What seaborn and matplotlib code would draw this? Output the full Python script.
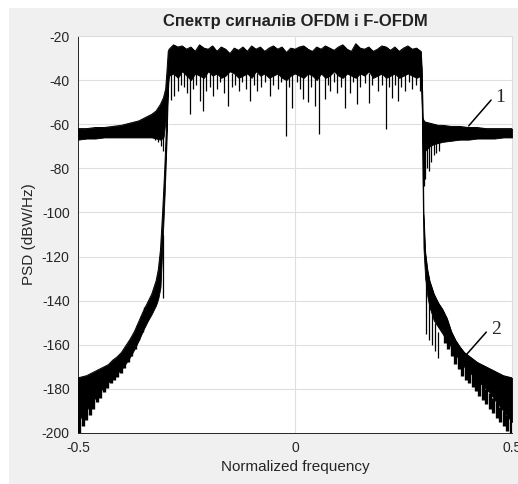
import numpy as np
import matplotlib
matplotlib.use('Agg')
import matplotlib.pyplot as plt
import seaborn as sns
from matplotlib.patches import Rectangle

# ---- дані ----
# OFDM, смуга пропускання: обвідні
pb_freq = [-0.29, -0.28, -0.27, -0.26, -0.25, -0.24, -0.23, -0.22, -0.21, -0.20,
           -0.19, -0.18, -0.17, -0.16, -0.15, -0.14, -0.13, -0.12, -0.11, -0.10,
           -0.09, -0.08, -0.07, -0.06, -0.05, -0.04, -0.03, -0.02, -0.01, 0.00,
           0.01, 0.02, 0.03, 0.04, 0.05, 0.06, 0.07, 0.08, 0.09, 0.10,
           0.11, 0.12, 0.13, 0.14, 0.15, 0.16, 0.17, 0.18, 0.19, 0.20,
           0.21, 0.22, 0.23, 0.24, 0.25, 0.26, 0.27, 0.28, 0.29]
pb_upper = [-26, -24, -25, -24.5, -26, -25, -27, -24, -25.5, -26,
            -24.5, -27, -25, -26, -28, -25.5, -26.5, -25, -27, -24.5,
            -26, -25, -27, -25.5, -24.5, -26, -25, -27.5, -25.5, -26,
            -25, -24.5, -26, -27, -25, -26, -24.5, -25.5, -26.5, -25,
            -24, -26, -27, -23.5, -25.5, -26, -25, -27, -26, -24.5,
            -25, -26.5, -25, -27, -25.5, -24.5, -26, -25.5, -27]
pb_lower = [-38, -37, -39, -36, -38, -40, -37, -38, -39, -36,
            -38, -37, -39, -38, -36, -37, -39, -38, -37, -39,
            -36, -38, -37, -39, -38, -37, -39, -40, -38, -37,
            -38, -39, -37, -38, -40, -37, -39, -38, -36, -38,
            -39, -37, -38, -39, -37, -38, -36, -39, -38, -37,
            -39, -38, -37, -39, -38, -37, -38, -39, -38]

# OFDM, провали в смузі (частота, рівень)
dip_freq = [-0.285, -0.278, -0.27, -0.262, -0.255, -0.248, -0.242, -0.235, -0.228, -0.22,
            -0.212, -0.205, -0.196, -0.188, -0.18, -0.172, -0.163, -0.154, -0.146, -0.138,
            -0.13, -0.122, -0.113, -0.104, -0.095, -0.087, -0.078, -0.07, -0.058, -0.05,
            -0.04, -0.032, -0.021, -0.014, -0.008, 0.004, 0.012, 0.019, 0.031, 0.038,
            0.046, 0.056, 0.068, 0.075, 0.081, 0.089, 0.096, 0.105, 0.115, 0.127,
            0.134, 0.142, 0.15, 0.161, 0.17, 0.178, 0.192, 0.2, 0.209, 0.216,
            0.223, 0.23, 0.237, 0.245, 0.253, 0.262, 0.27, 0.278, 0.288]
dip_level = [-49, -47, -45, -42, -43, -46, -55.5, -44, -42, -49.5,
             -54, -45, -43, -47, -44, -41, -46, -51.7, -43, -42,
             -45, -41, -44, -49.5, -42, -45, -43, -41, -47, -42,
             -44, -41, -65.3, -43, -52.5, -41, -44, -48.7, -50, -43,
             -51.7, -64.6, -48.7, -42, -45, -41, -45.7, -43, -52.5, -46,
             -41, -51, -43, -41.5, -50.2, -42, -45, -42, -62.3, -43,
             -48, -42, -49.5, -43, -45, -41, -44, -42, -45]

# OFDM, позасмугове випромінювання зліва / справа
oob_l_freq = [-0.50, -0.48, -0.46, -0.44, -0.42, -0.40, -0.38, -0.36, -0.35, -0.34,
              -0.33, -0.32, -0.31, -0.303, -0.298, -0.295, -0.292]
oob_l_upper = [-62, -62, -61.5, -61.5, -61, -60.5, -59.5, -58.5, -57.5, -56.5,
               -55.5, -54, -51, -48, -44, -36, -27]
oob_l_lower = [-67, -66.5, -66.5, -66, -66, -66, -66, -66, -66, -66,
               -66, -66.5, -67, -66, -58, -48, -40]
oob_r_freq = [0.290, 0.292, 0.294, 0.297, 0.300, 0.310, 0.320, 0.330, 0.340, 0.360,
              0.380, 0.400, 0.420, 0.440, 0.460, 0.480, 0.500]
oob_r_upper = [-27, -35, -57, -58.5, -59, -59.5, -60, -60.5, -60.5, -61,
               -61, -61.5, -61.5, -62, -62, -62, -62]
oob_r_lower = [-38, -48, -68, -74, -72, -70, -69, -68.5, -68, -67.5,
               -67, -67, -66.5, -66.5, -66.5, -66, -66]
oob_spike_freq = [-0.322, -0.315, -0.309, -0.303, 0.297, 0.300, 0.304, 0.309, 0.314, 0.320, 0.326, 0.332]
oob_spike_level = [-67, -68, -70, -72, -88, -85, -80, -81, -77, -74, -73, -72]

# F-OFDM, спад зліва / справа (щільна частина)
sk_l_freq = [-0.500, -0.490, -0.480, -0.470, -0.460, -0.450, -0.440, -0.430, -0.420, -0.410,
             -0.400, -0.390, -0.380, -0.370, -0.360, -0.350, -0.340, -0.330, -0.320, -0.315,
             -0.310, -0.305, -0.300, -0.296, -0.293, -0.290]
sk_l_upper = [-175, -174.5, -174, -173, -172, -171, -170, -169, -167, -165.5,
              -163.5, -160.5, -157.5, -154, -149.5, -145, -141, -137, -131, -126,
              -117, -100, -80, -60, -40, -30]
sk_l_lower = [-195, -192, -189.5, -187, -184, -181.5, -179, -177, -175, -173,
              -171, -168.5, -165.5, -162, -158, -153.5, -149.5, -146, -142, -139,
              -134, -113, -90, -68, -46, -35]
sk_r_freq = [0.290, 0.293, 0.296, 0.300, 0.305, 0.310, 0.320, 0.330, 0.340, 0.350,
             0.360, 0.370, 0.380, 0.390, 0.400, 0.410, 0.420, 0.430, 0.440, 0.450,
             0.460, 0.470, 0.480, 0.490, 0.500]
sk_r_upper = [-30, -45, -100, -118, -126, -131, -137, -141, -144, -148,
              -154, -158, -161, -163.5, -165, -166.5, -168, -169, -170, -171,
              -172, -173, -174, -174.5, -175]
sk_r_lower = [-36, -55, -116, -130, -138, -143, -149, -152, -155, -158,
              -161, -164.5, -167, -170, -172, -174, -176, -178, -180, -182,
              -185, -187.5, -190, -192.5, -195]
# зубці нижньої обвідної F-OFDM (кінці)
tooth_freq = [-0.497, -0.489, -0.481, -0.473, -0.465, -0.457, -0.449, -0.441, -0.433, -0.425,
              -0.417, -0.409, -0.401, -0.393, -0.385, -0.377, -0.369, -0.361, -0.353, -0.345,
              0.345, 0.353, 0.361, 0.369, 0.377, 0.385, 0.393, 0.401, 0.409, 0.417,
              0.425, 0.433, 0.441, 0.449, 0.457, 0.465, 0.473, 0.481, 0.489, 0.497]
tooth_level = [-200, -197, -194, -192, -189, -186, -184, -181.5, -179.5, -177.5,
               -176, -174.5, -173, -170.5, -168, -165, -162, -158, -154, -150,
               -159, -162, -165, -168.5, -171, -174, -176, -177.5, -179, -181,
               -183, -185, -187, -189, -191, -193, -195, -197, -199, -200]
sk_spike_freq = [-0.303, 0.302, 0.308, 0.315, 0.322, 0.330]
sk_spike_top = [-110, -132, -140, -146, -150, -154]
sk_spike_level = [-139, -155, -158, -160, -163, -166]

yticks = [-200, -180, -160, -140, -120, -100, -80, -60, -40, -20]
xticks = [-0.5, 0, 0.5]

# ---- оформлення ----
sns.set_style('white')
plt.rcParams['font.family'] = ['Liberation Sans', 'DejaVu Sans']
plt.rcParams['axes.unicode_minus'] = False
txt = '#262626'

fig = plt.figure(figsize=(5.18, 4.84), dpi=100)
fig.patch.set_facecolor('white')
fig.patches.append(Rectangle((9 / 518, 0), 1, 476 / 484, transform=fig.transFigure,
                             facecolor='#f0f0f0', edgecolor='none', zorder=-5))
ax = fig.add_axes([78 / 518, 51 / 484, 434 / 518, 397 / 484])
ax.set_facecolor('white')

# OFDM (1)
freq1 = oob_l_freq + pb_freq + oob_r_freq
up1 = oob_l_upper + pb_upper + oob_r_upper
lo1 = oob_l_lower + pb_lower + oob_r_lower
ax.fill_between(freq1, up1, lo1, color='black', lw=0.6, zorder=3)
sns.lineplot(x=freq1, y=up1, color='black', lw=0.7, ax=ax, estimator=None, sort=False, zorder=3)
ax.vlines(dip_freq, -37, dip_level, color='black', lw=0.9, zorder=3)
ax.vlines(oob_spike_freq, -64, oob_spike_level, color='black', lw=0.9, zorder=3)

# F-OFDM (2)
for f, u, l in [(sk_l_freq, sk_l_upper, sk_l_lower), (sk_r_freq, sk_r_upper, sk_r_lower)]:
    ax.fill_between(f, u, l, color='black', lw=0.6, zorder=3)
    sns.lineplot(x=f, y=u, color='black', lw=0.7, ax=ax, estimator=None, sort=False, zorder=3)
ax.vlines(tooth_freq, [t + 7 for t in tooth_level], tooth_level, color='black', lw=2.4, zorder=3)
ax.vlines(sk_spike_freq, sk_spike_top, sk_spike_level, color='black', lw=0.9, zorder=3)

ax.set_xlim(-0.5, 0.5)
ax.set_ylim(-200, -20)
ax.set_xticks(xticks)
ax.set_xticklabels(['-0.5', '0', '0.5'])
ax.set_yticks(yticks)
ax.grid(True, color='#dfdfdf', lw=0.8, zorder=0)
ax.set_axisbelow(True)
ax.tick_params(direction='in', length=3, width=0.6, colors=txt, labelsize=10, pad=6)
for s in ['left', 'bottom']:
    ax.spines[s].set_color(txt)
    ax.spines[s].set_linewidth(0.7)
for s in ['top', 'right']:
    ax.spines[s].set_color('#dcdcdc')
    ax.spines[s].set_linewidth(0.7)

ax.set_title('Спектр сигналів OFDM і F-OFDM', fontsize=12, fontweight='bold', color='#222222', pad=7)
ax.set_xlabel('Normalized frequency', fontsize=11, color=txt, labelpad=3)
ax.set_ylabel('PSD (dBW/Hz)', fontsize=11, color=txt, labelpad=4)

# позначки кривих
ax.annotate('', xy=(0.396, -61.7), xytext=(0.456, -48.1),
            arrowprops=dict(arrowstyle='-', color='black', lw=1.1), zorder=5)
ax.text(0.462, -48, '1', family=['Liberation Serif', 'DejaVu Serif'], fontsize=14, va='center', ha='left')
ax.annotate('', xy=(0.380, -167.8), xytext=(0.445, -153.3),
            arrowprops=dict(arrowstyle='-', color='black', lw=1.1), zorder=5)
ax.text(0.452, -153, '2', family=['Liberation Serif', 'DejaVu Serif'], fontsize=14, va='center', ha='left')

fig.savefig('out.png', dpi=100, facecolor=fig.get_facecolor())
